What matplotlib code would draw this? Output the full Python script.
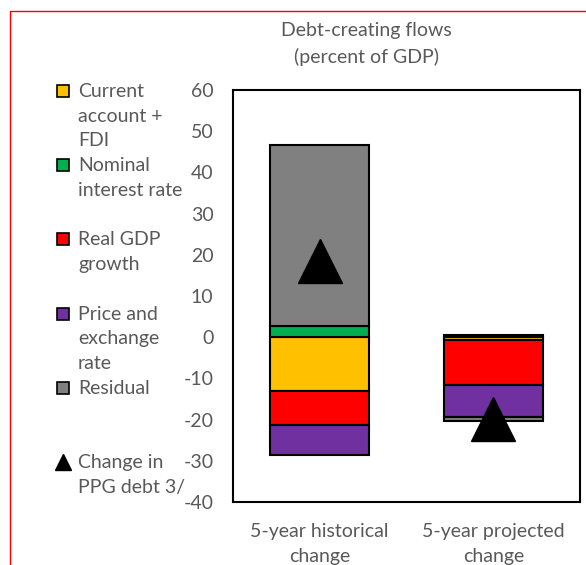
import numpy as np
import matplotlib.pyplot as plt
from matplotlib.lines import Line2D
from matplotlib.patches import Rectangle

# data (percent of GDP)
categories = ['5-year historical\nchange', '5-year projected\nchange']
ca_fdi = [-13.0, -0.6]
nominal_interest = [2.7, 0.5]
real_gdp = [-8.3, -11.0]
price_exchange = [-7.3, -7.8]
residual = [44.0, -0.9]
ppg_change = [18.4, -19.9]

series_names = ['Current\naccount +\nFDI', 'Nominal\ninterest rate', 'Real GDP\ngrowth',
                'Price and\nexchange\nrate', 'Residual']
series_values = [ca_fdi, nominal_interest, real_gdp, price_exchange, residual]
series_colors = ['#FFC000', '#00B050', '#FF0000', '#7030A0', '#808080']

plt.rcParams['font.family'] = ['Lato', 'DejaVu Sans']
plt.rcParams['axes.unicode_minus'] = False
text_color = '#595959'
fs = 14
lsp = 1.55

W, H = 586, 565
fig = plt.figure(figsize=(W / 100, H / 100), dpi=100)
ax = fig.add_axes([233 / W, 1 - 502 / H, (580 - 233) / W, (502 - 90) / H])

x = np.arange(len(categories))
pos_base = np.zeros(len(categories))
neg_base = np.zeros(len(categories))
for vals, col in zip(series_values, series_colors):
    vals = np.array(vals)
    bottom = np.where(vals >= 0, pos_base, neg_base)
    ax.bar(x, vals, width=0.57, bottom=bottom, color=col,
           edgecolor='black', linewidth=1.5, zorder=2)
    pos_base += np.where(vals >= 0, vals, 0)
    neg_base += np.where(vals < 0, vals, 0)

ax.plot(x, ppg_change, linestyle='none', marker='^', markersize=32,
        color='black', zorder=3)

ax.set_xlim(-0.5, 1.5)
ax.set_ylim(-40, 60)
ax.set_yticks(np.arange(-40, 61, 10))
ax.set_xticks(x)
ax.set_xticklabels(categories, linespacing=1.6)
ax.tick_params(axis='both', length=0, labelsize=fs, labelcolor=text_color)
ax.tick_params(axis='y', pad=14)
ax.tick_params(axis='x', pad=15)
for sp in ax.spines.values():
    sp.set_linewidth(1.5)
    sp.set_color('black')

fig.text(366 / W, 1 - 44 / H, 'Debt-creating flows\n(percent of GDP)',
         ha='center', va='center', fontsize=fs, color=text_color, linespacing=lsp)

# legend drawn by hand, entries evenly spaced like the original
legend_labels = series_names + ['Change in\nPPG debt 3/']
for i, lab in enumerate(legend_labels):
    y_px = 91 + i * 74.2
    fig.text(78 / W, 1 - (y_px - 8) / H, lab, ha='left', va='top',
             fontsize=fs, color=text_color, linespacing=lsp)
    if i < len(series_colors):
        fig.add_artist(Rectangle((57 / W, 1 - (y_px + 6) / H), 12 / W, 12 / H,
                                 facecolor=series_colors[i], edgecolor='black',
                                 linewidth=1.2, transform=fig.transFigure))
    else:
        fig.add_artist(Line2D([63 / W], [1 - y_px / H], marker='^', markersize=12,
                              color='black', transform=fig.transFigure))

# red outline of the chart area
fig.add_artist(Line2D([10 / W, 10 / W, 1], [0, 1 - 11 / H, 1 - 11 / H],
                      color='red', linewidth=1, transform=fig.transFigure))

fig.savefig('out.png', dpi=100)
